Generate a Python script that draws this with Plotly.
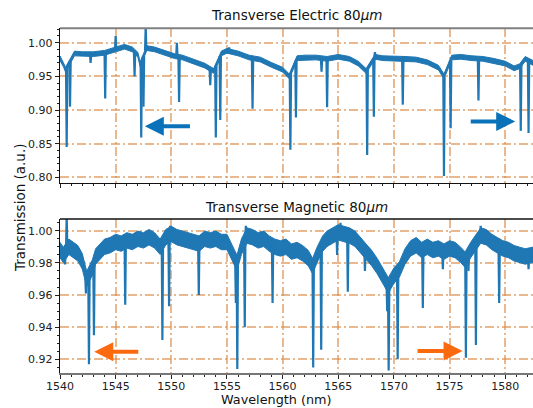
import numpy as np
import plotly.graph_objects as go

# ---------------- data ----------------
# Transverse Electric: baseline (centre of the noisy trace)
te_bx = [1540.0, 1540.3, 1540.5, 1541.0, 1541.3, 1542.0, 1543.0, 1544.0, 1545.0, 1545.8,
         1546.5, 1547.0, 1547.2, 1547.8, 1548.5, 1549.5, 1550.3, 1551.0, 1552.0, 1553.0,
         1553.8, 1554.5, 1555.0, 1556.0, 1557.0, 1558.0, 1559.0, 1560.0, 1560.6, 1561.3,
         1562.0, 1563.0, 1564.0, 1565.0, 1566.0, 1566.8, 1567.5, 1568.3, 1569.0, 1570.0,
         1571.0, 1572.0, 1573.0, 1574.0, 1574.5, 1575.2, 1576.0, 1577.0, 1578.0, 1579.0,
         1580.0, 1580.8, 1581.3, 1581.8, 1582.5]
te_mid = [0.977, 0.968, 0.960, 0.975, 0.984, 0.983, 0.983, 0.985, 0.990, 0.994,
          0.990, 0.982, 0.968, 0.992, 0.990, 0.984, 0.980, 0.978, 0.972, 0.966,
          0.958, 0.984, 0.988, 0.984, 0.978, 0.975, 0.967, 0.960, 0.950, 0.977,
          0.978, 0.978, 0.976, 0.979, 0.976, 0.969, 0.958, 0.979, 0.977, 0.977,
          0.976, 0.975, 0.971, 0.963, 0.950, 0.978, 0.979, 0.977, 0.976, 0.973,
          0.969, 0.962, 0.965, 0.976, 0.970]
# TE resonance dips and spikes (wavelength, extreme value)
te_px = [1540.6, 1540.9, 1542.75, 1544.06, 1545.0, 1546.7, 1547.3, 1547.5, 1547.7, 1550.5,
         1550.7, 1553.5, 1554.0, 1554.4, 1555.2, 1557.3, 1560.7, 1561.2, 1563.5, 1564.0,
         1567.6, 1568.2, 1568.3, 1570.8, 1574.5, 1575.1, 1577.6, 1581.4, 1582.1]
te_py = [0.845, 0.905, 0.970, 0.917, 1.010, 0.950, 0.859, 0.905, 1.025, 1.000,
         0.912, 0.937, 0.859, 0.885, 0.993, 0.902, 0.841, 0.889, 0.957, 0.904,
         0.833, 0.890, 0.986, 0.908, 0.802, 0.873, 0.914, 0.869, 0.866]

# Transverse Magnetic: baseline
tm_bx = [1540.0, 1540.3, 1540.8, 1541.2, 1541.6, 1542.0, 1542.4, 1542.9, 1543.2, 1543.6,
         1544.0, 1544.5, 1545.0, 1545.5, 1546.0, 1546.5, 1547.0, 1547.5, 1548.0, 1548.5,
         1549.0, 1549.5, 1550.0, 1550.5, 1551.0, 1551.5, 1552.0, 1552.5, 1553.0, 1553.5,
         1554.0, 1554.5, 1555.0, 1555.5, 1555.9, 1556.3, 1556.8, 1557.3, 1557.8, 1558.3,
         1558.8, 1559.3, 1559.8, 1560.3, 1560.8, 1561.3, 1561.8, 1562.3, 1562.7, 1563.1,
         1563.6, 1564.0, 1564.5, 1565.0, 1565.5, 1566.0, 1566.5, 1567.0, 1567.5, 1568.0,
         1568.5, 1569.0, 1569.5, 1570.0, 1570.5, 1571.0, 1571.5, 1572.0, 1572.5, 1573.0,
         1573.5, 1574.0, 1574.5, 1575.0, 1575.5, 1576.0, 1576.4, 1576.9, 1577.4, 1577.8,
         1578.3, 1578.8, 1579.3, 1579.8, 1580.3, 1580.8, 1581.3, 1581.8, 1582.5]
tm_mid = [0.988, 0.985, 0.990, 0.988, 0.986, 0.981, 0.970, 0.977, 0.984, 0.987,
          0.990, 0.991, 0.993, 0.992, 0.994, 0.993, 0.995, 0.994, 0.996, 0.994,
          0.990, 0.996, 0.998, 0.996, 0.995, 0.994, 0.993, 0.992, 0.995, 0.994,
          0.995, 0.993, 0.993, 0.986, 0.980, 0.990, 0.997, 0.996, 0.994, 0.995,
          0.992, 0.990, 0.989, 0.990, 0.987, 0.988, 0.986, 0.983, 0.978, 0.985,
          0.992, 0.995, 0.997, 0.999, 0.998, 0.997, 0.995, 0.991, 0.987, 0.983,
          0.978, 0.972, 0.966, 0.972, 0.976, 0.984, 0.989, 0.991, 0.988, 0.990,
          0.988, 0.989, 0.987, 0.989, 0.988, 0.985, 0.982, 0.988, 0.993, 0.997,
          0.996, 0.993, 0.991, 0.989, 0.988, 0.986, 0.985, 0.984, 0.985]
tm_px = [1540.45, 1540.6, 1542.33, 1542.6, 1543.05, 1545.86, 1549.2, 1549.8, 1549.9, 1552.47,
         1555.8, 1555.93, 1556.6, 1556.7, 1559.1, 1562.75, 1563.47, 1564.9, 1565.2, 1565.86,
         1567.4, 1569.4, 1569.53, 1570.34, 1572.6, 1574.4, 1576.47, 1576.7, 1577.37, 1577.8,
         1579.46, 1582.1]
tm_py = [0.979, 1.010, 0.961, 0.917, 0.935, 0.954, 0.932, 0.953, 1.003, 0.960,
         0.955, 0.914, 0.940, 1.003, 0.955, 0.915, 0.926, 0.985, 1.005, 0.962,
         0.975, 0.950, 0.913, 0.920, 0.952, 0.976, 0.921, 0.975, 0.929, 1.003,
         0.955, 0.976]

x_ticks = [1540, 1545, 1550, 1555, 1560, 1565, 1570, 1575, 1580]
te_ticks = [0.80, 0.85, 0.90, 0.95, 1.00]
tm_ticks = [0.92, 0.94, 0.96, 0.98, 1.00]

# ---------------- style ----------------
LINE = "#1f77b4"
GRID = "rgba(220,140,72,0.62)"
GDASH = "9px,3px,2px,3px"
TE_NOISE = 0.0035
TM_NOISE = 0.0048
FONT = "DejaVu Sans"
W, H = 533, 408
L = 60


def py2paper(p):
    return 1 - p / H


fig = go.Figure()


def add_panel(bx, mid, px, pyv, noise, xa, ya):
    bx = np.asarray(bx); mid = np.asarray(mid)
    hi = mid + noise
    lo = mid - noise
    fig.add_trace(go.Scatter(
        x=np.concatenate([bx, bx[::-1]]), y=np.concatenate([hi, lo[::-1]]),
        fill="toself", fillcolor=LINE, mode="lines",
        line=dict(color=LINE, width=1), xaxis=xa, yaxis=ya,
        hoverinfo="skip", showlegend=False))
    xs, ys = [], []
    for xv, yv in zip(px, pyv):
        base = float(np.interp(xv, bx, mid))
        xs += [xv - 0.06, xv, xv + 0.06, None]
        ys += [base, yv, base, None]
    fig.add_trace(go.Scatter(x=xs, y=ys, mode="lines",
                             line=dict(color=LINE, width=2.2),
                             xaxis=xa, yaxis=ya, showlegend=False))


add_panel(te_bx, te_mid, te_px, te_py, TE_NOISE, "x", "y")
add_panel(tm_bx, tm_mid, tm_px, tm_py, TM_NOISE, "x2", "y2")

top_dom = [py2paper(182.7), py2paper(28.3)]
bot_dom = [py2paper(372.7), py2paper(219.0)]

tickfont = dict(family=FONT, size=11, color="#222")
common_x = dict(range=[1540, 1582.5], tickvals=x_ticks, ticks="outside", ticklen=4,
                tickcolor="#222", showgrid=True, gridcolor=GRID, gridwidth=1.5,
                griddash=GDASH, zeroline=False, tickfont=tickfont,
                minor=dict(dtick=1, tick0=1540, ticks="outside", ticklen=2,
                           tickcolor="#222", showgrid=False))
fig.update_layout(
    width=W, height=H, margin=dict(l=L, r=0, t=0, b=0),
    paper_bgcolor="white", plot_bgcolor="white",
    font=dict(family=FONT, color="#222"),
    xaxis=dict(domain=[0, 1], anchor="y", showticklabels=False, showline=True,
               linecolor="#111", linewidth=1.4, **common_x),
    xaxis2=dict(domain=[0, 1], anchor="y2", showticklabels=True, showline=True,
                linecolor="#777", linewidth=2, ticklabelstandoff=-2, **common_x),
    yaxis=dict(domain=top_dom, range=[0.792, 1.0214], tickvals=te_ticks,
               tickformat=".2f", ticks="outside", ticklen=4, tickcolor="#222",
               showline=True, linecolor="#111", linewidth=1.4,
               showgrid=True, gridcolor=GRID, gridwidth=1.5,
               griddash=GDASH, zeroline=False, tickfont=tickfont,
               minor=dict(dtick=0.01, tick0=0.8, ticks="outside", ticklen=2,
                          tickcolor="#222", showgrid=False)),
    yaxis2=dict(domain=bot_dom, range=[0.9117, 1.0073], tickvals=tm_ticks,
                tickformat=".2f", ticks="outside", ticklen=4, tickcolor="#222",
                showline=True, linecolor="#111", linewidth=1.4,
                showgrid=True, gridcolor=GRID, gridwidth=1.5,
                griddash=GDASH, zeroline=False, tickfont=tickfont,
                minor=dict(dtick=0.005, tick0=0.92, ticks="outside", ticklen=2,
                           tickcolor="#222", showgrid=False)),
)

# top spines
fig.add_shape(type="line", xref="paper", yref="paper", x0=0, x1=1.01,
              y0=top_dom[1], y1=top_dom[1], line=dict(color="#808080", width=2))
fig.add_shape(type="line", xref="paper", yref="paper", x0=0, x1=1.01,
              y0=bot_dom[1], y1=bot_dom[1], line=dict(color="#111", width=1.4))

# titles / labels
ann = [
    dict(text="Transverse Electric 80<i>μm</i>", x=(296 - L) / (W - L), y=py2paper(15.5), size=13.5),
    dict(text="Transverse Magnetic 80<i>μm</i>", x=(296 - L) / (W - L), y=py2paper(206.5), size=13.5),
    dict(text="Wavelength (nm)", x=(276 - L) / (W - L), y=py2paper(399.5), size=12.8),
]
for a in ann:
    size = a.pop("size")
    fig.add_annotation(xref="paper", yref="paper", showarrow=False,
                       xanchor="center", yanchor="middle",
                       font=dict(family=FONT, size=size, color="#111"), **a)
fig.add_annotation(xref="paper", yref="paper", showarrow=False, text="Transmission (a.u.)",
                   x=(20 - L) / (W - L), y=py2paper(208), textangle=-90,
                   xanchor="center", yanchor="middle",
                   font=dict(family=FONT, size=13.5, color="#111"))

# direction arrows
arrows = [
    ("x", "y", 1547.62, 0.876, 1551.81, 0.876, "#0a72b8"),
    ("x", "y", 1580.9, 0.883, 1576.77, 0.883, "#0a72b8"),
    ("x2", "y2", 1543.08, 0.9248, 1547.17, 0.9248, "#fc6a10"),
    ("x2", "y2", 1576.17, 0.9252, 1571.99, 0.9252, "#fc6a10"),
]
for xr, yr, x, y, ax, ay, c in arrows:
    fig.add_annotation(xref=xr, yref=yr, axref=xr, ayref=yr, x=x, y=y, ax=ax, ay=ay,
                       text="", showarrow=True, arrowhead=2, arrowsize=0.95,
                       arrowwidth=4, arrowcolor=c)

fig.write_html("out.html")
